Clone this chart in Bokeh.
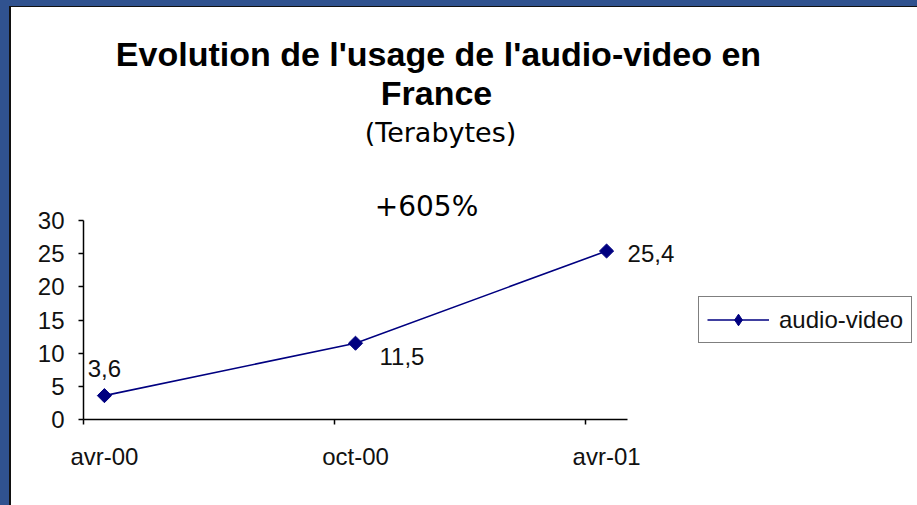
import numpy as np
from bokeh.plotting import figure
from bokeh.models import (ColumnDataSource, FixedTicker, Label, Legend, LegendItem,
                          Range1d, LinearAxis)
from bokeh.transform import dodge
from bokeh.embed import file_html
from bokeh.resources import INLINE

# ---- data ----
months = [0, 6, 12]                      # months elapsed since avr-00
tick_labels = ["avr-00", "oct-00", "avr-01"]
values = [3.6, 11.5, 25.4]               # Terabytes
value_labels = ["3,6", "11,5", "25,4"]
series_name = "audio-video"
y_ticks = [0, 5, 10, 15, 20, 25, 30]
y_max = 30
n_months = 13                            # avr-00 .. avr-01 inclusive
title_lines = ["Evolution de l'usage de l'audio-video en", "France"]
subtitle = "(Terabytes)"
growth_text = "+605%"

NAVY = "#000080"
FONT = "Liberation Sans"

# ---- layout (pixels) ----
W, H = 917, 505
LEFT, BOTTOM = 83, 86
AXIS_W, AXIS_H = 544, 199               # drawn length of x and y axes
frame_w, frame_h = W - LEFT, H - BOTTOM

src = ColumnDataSource(dict(month=months, value=values))

p = figure(width=W, height=H, output_backend="svg", toolbar_location=None,
           x_range=Range1d(0, n_months * frame_w / AXIS_W),
           y_range=Range1d(0, y_max * frame_h / AXIS_H),
           x_axis_type=None, y_axis_type=None,
           min_border_left=LEFT, min_border_right=0,
           min_border_top=0, min_border_bottom=BOTTOM)
p.outline_line_color = None
p.background_fill_color = None
p.border_fill_color = None
p.styles = {"background-color": "white",
            "box-shadow": "inset 9px 6px 0 0 #30528F, inset 11px 7px 0 0 #111111"}

# x axis: labels centred on the months, tick marks at the month boundaries
xaxis = LinearAxis(
    ticker=FixedTicker(ticks=[m + 0.5 for m in months], minor_ticks=months),
    major_label_overrides={m + 0.5: t for m, t in zip(months, tick_labels)},
    bounds=(0, n_months),
    axis_line_color="black", axis_line_width=1.5,
    major_tick_out=0, major_tick_in=0,
    minor_tick_out=5, minor_tick_in=0, minor_tick_line_color="black", minor_tick_line_width=1.5,
    major_label_standoff=18,
    major_label_text_font=FONT, major_label_text_font_size="24px",
    major_label_text_color="#111111")
p.add_layout(xaxis, "below")

yaxis = LinearAxis(
    ticker=FixedTicker(ticks=y_ticks),
    bounds=(0, y_max),
    axis_line_color="black", axis_line_width=1.5,
    major_tick_out=5, major_tick_in=0, major_tick_line_color="black", major_tick_line_width=1.5,
    minor_tick_out=0, minor_tick_in=0,
    major_label_standoff=14,
    major_label_text_font=FONT, major_label_text_font_size="24px",
    major_label_text_color="#111111")
p.add_layout(yaxis, "left")

xpos = dodge("month", 0.5)
line_r = p.line(x=xpos, y="value", source=src, line_color=NAVY, line_width=1.6)
pts_r = p.scatter(x=xpos, y="value", source=src, marker="square", angle=np.pi / 4,
                  size=10, fill_color=NAVY, line_color=NAVY)
# zero-size diamond renderer: gives the legend its diamond symbol
key_r = p.scatter(x=xpos, y="value", source=src, marker="diamond", size=0,
                  fill_color=NAVY, line_color=NAVY)

# value labels
offsets = [dict(x_offset=0, y_offset=27, text_align="center"),
           dict(x_offset=24, y_offset=-13, text_align="left"),
           dict(x_offset=21, y_offset=-2, text_align="left")]
for m, v, t, o in zip(months, values, value_labels, offsets):
    p.add_layout(Label(x=m + 0.5, y=v, text=t, text_font=FONT, text_font_size="24px",
                       text_color="#111111", text_baseline="alphabetic", **o))

# titles (frame-relative screen units)
def add_text(txt, sx, sy, font, size, style="normal"):
    p.add_layout(Label(x=sx, y=sy, x_units="screen", y_units="screen", text=txt,
                       text_font=font, text_font_size=size, text_font_style=style,
                       text_align="center", text_baseline="alphabetic", text_color="black"))

add_text(title_lines[0], 355, 366, FONT, "34px", "bold")
add_text(title_lines[1], 353, 327, FONT, "34px", "bold")
add_text(subtitle, 357, 287, "DejaVu Sans", "27px")
add_text(growth_text, 343, 213, "DejaVu Sans", "28px")

legend = Legend(items=[LegendItem(label=series_name, renderers=[line_r, key_r])],
                location=(615, 76), orientation="vertical",
                border_line_color="black", border_line_width=1.5,
                background_fill_color="white", background_fill_alpha=1,
                padding=8, margin=0, spacing=0,
                glyph_width=62, glyph_height=29, label_height=29, label_standoff=10,
                label_text_font=FONT, label_text_font_size="24px",
                label_text_color="#111111")
p.add_layout(legend)

open("out.html", "w").write(file_html(p, INLINE))
